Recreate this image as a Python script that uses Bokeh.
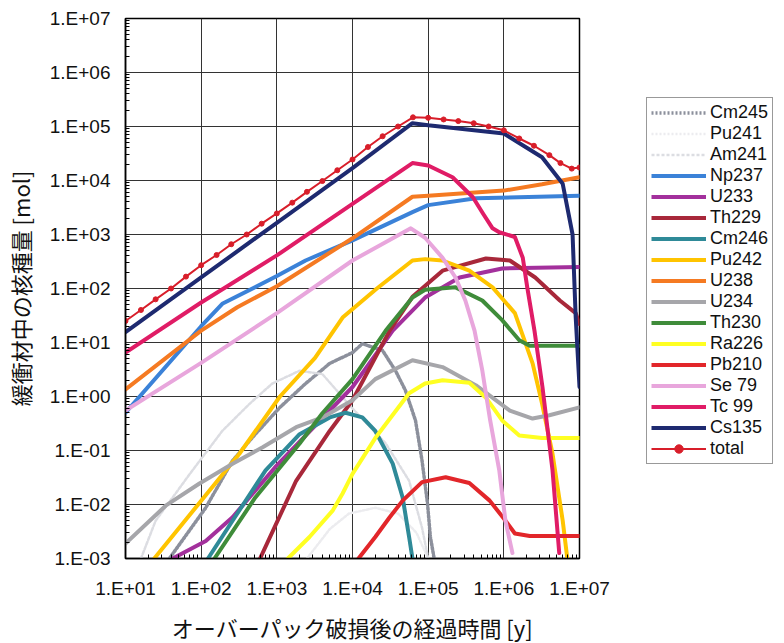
from bokeh.plotting import figure
from bokeh.models import Range1d, FixedTicker, Legend, LegendItem
from bokeh.layouts import row
from bokeh.embed import file_html
from bokeh.resources import INLINE

# ---------------- data ----------------
x_ticks = [1e1, 1e2, 1e3, 1e4, 1e5, 1e6, 1e7]
x_labels = ["1.E+01", "1.E+02", "1.E+03", "1.E+04", "1.E+05", "1.E+06", "1.E+07"]
y_ticks = [1e-3, 1e-2, 1e-1, 1e0, 1e1, 1e2, 1e3, 1e4, 1e5, 1e6, 1e7]
y_labels = ["1.E-03", "1.E-02", "1.E-01", "1.E+00", "1.E+01", "1.E+02",
            "1.E+03", "1.E+04", "1.E+05", "1.E+06", "1.E+07"]

cm245_t = [38, 115, 260, 520, 1100, 2400, 5000, 10000, 13500, 25000, 37000, 50000, 68000, 83000, 98000, 107000, 120000]
cm245_v = [0.001, 0.0087, 0.065, 0.2, 0.63, 1.74, 4.1, 6.5, 9.5, 7.1, 3.0, 1.3, 0.36, 0.065, 0.0105, 0.0025, 0.001]

pu241_t = [2500, 5000, 9000, 20000, 40000, 70000, 100000]
pu241_v = [0.001, 0.0035, 0.0068, 0.0087, 0.0068, 0.003, 0.001]

am241_t = [16, 25, 71, 190, 440, 870, 2000, 4000, 10000, 27500, 56000, 83000, 100000]
am241_v = [0.001, 0.005, 0.037, 0.23, 0.74, 1.74, 3.0, 2.6, 0.6, 0.135, 0.0275, 0.0037, 0.001]

np237_t = [10, 100, 190, 1000, 2400, 10000, 62000, 100000, 430000, 10000000]
np237_v = [0.5, 20, 52, 170, 330, 780, 2600, 3500, 4700, 5200]

u233_t = [42, 115, 260, 950, 10000, 34000, 91000, 260000, 950000, 10000000]
u233_v = [0.001, 0.0021, 0.0058, 0.049, 1.5, 16.6, 68, 160, 235, 250]

th229_t = [600, 1800, 5000, 10000, 31000, 62000, 155000, 580000, 1200000, 2600000, 5500000, 8900000, 10000000]
th229_v = [0.001, 0.0275, 0.23, 0.85, 16.6, 70, 214, 360, 330, 160, 60, 35, 22]

cm246_t = [123, 260, 710, 2000, 5000, 8100, 13500, 20000, 34000, 46000, 56000, 62000]
cm246_v = [0.001, 0.005, 0.043, 0.2, 0.41, 0.5, 0.41, 0.23, 0.057, 0.0135, 0.0025, 0.001]

pu242_t = [24, 320, 1100, 3200, 7400, 21000, 62000, 91000, 155000, 350000, 710000, 1400000, 2400000, 3200000, 4400000, 6000000, 6900000]
pu242_v = [0.001, 0.087, 1.0, 5.2, 29, 100, 330, 350, 330, 215, 105, 35, 4.1, 0.74, 0.087, 0.005, 0.001]

u238_t = [10, 100, 300, 1000, 10000, 62000, 100000, 1000000, 3200000, 10000000]
u238_v = [1.35, 16.6, 45, 110, 850, 5000, 5200, 6500, 8500, 11500]

u234_t = [10, 34, 95, 260, 650, 1800, 4000, 10000, 20000, 62000, 155000, 430000, 1200000, 2400000, 4000000, 10000000]
u234_v = [0.0019, 0.0095, 0.0245, 0.057, 0.115, 0.27, 0.41, 0.85, 2.1, 4.7, 3.5, 1.6, 0.55, 0.39, 0.45, 0.63]

th230_t = [150, 520, 2000, 4000, 10000, 27500, 62000, 91000, 230000, 520000, 950000, 1600000, 2200000, 10000000]
th230_v = [0.001, 0.0135, 0.135, 0.49, 2.1, 16.6, 68, 95, 105, 60, 26, 11, 8.7, 8.7]

ra226_t = [1400, 2700, 5500, 7400, 10000, 20000, 56000, 91000, 155000, 350000, 580000, 950000, 1600000, 3200000, 10000000]
ra226_v = [0.001, 0.0025, 0.0078, 0.016, 0.037, 0.17, 1.15, 1.74, 2.0, 1.8, 0.95, 0.36, 0.19, 0.17, 0.17]

pb210_t = [12000, 20000, 31000, 46000, 83000, 170000, 350000, 650000, 1000000, 1400000, 2200000, 10000000]
pb210_v = [0.001, 0.0025, 0.0058, 0.0118, 0.026, 0.032, 0.025, 0.0118, 0.0055, 0.0029, 0.0026, 0.0026]

se79_t = [10, 100, 1000, 10000, 59000, 91000, 155000, 230000, 310000, 410000, 520000, 660000, 870000, 1050000, 1300000]
se79_v = [0.55, 4.2, 35, 330, 1300, 870, 370, 160, 60, 16.6, 3.0, 0.36, 0.043, 0.005, 0.00126]

tc99_t = [10, 100, 1000, 10000, 62000, 100000, 210000, 390000, 530000, 710000, 870000, 1400000, 1780000, 2040000, 2540000, 3240000, 4400000, 5400000]
tc99_v = [6.5, 55, 410, 3700, 21000, 19000, 11500, 4900, 2450, 1300, 1100, 900, 370, 105, 16.6, 1.5, 0.043, 0.00126]

cs135_t = [10, 100, 1000, 10000, 62000, 100000, 1000000, 3200000, 6000000, 8100000, 8900000, 10000000]
cs135_v = [15.5, 160, 1650, 17000, 115000, 105000, 74000, 27000, 8700, 1000, 30, 1.5]

total_t = [10, 16, 25, 40, 63, 100, 160, 250, 400, 630, 1000, 1600, 2500, 4000, 6300,
           10000, 16000, 25000, 40000, 63000, 100000, 160000, 250000, 400000, 630000,
           1000000, 1600000, 2500000, 4000000, 5600000, 7900000, 10000000]
total_v = [25, 40, 63, 100, 166, 270, 417, 660, 1000, 1585, 2455, 3890, 6170, 9770, 15500,
           24500, 41700, 66000, 100000, 148000, 145000, 135000, 126000, 115000, 100000,
           85000, 60000, 44000, 29500, 21000, 16600, 17400]

names = ["Cm245", "Pu241", "Am241", "Np237", "U233", "Th229", "Cm246", "Pu242",
         "U238", "U234", "Th230", "Ra226", "Pb210", "Se 79", "Tc 99", "Cs135"]
series_t = [cm245_t, pu241_t, am241_t, np237_t, u233_t, th229_t, cm246_t, pu242_t,
            u238_t, u234_t, th230_t, ra226_t, pb210_t, se79_t, tc99_t, cs135_t]
series_v = [cm245_v, pu241_v, am241_v, np237_v, u233_v, th229_v, cm246_v, pu242_v,
            u238_v, u234_v, th230_v, ra226_v, pb210_v, se79_v, tc99_v, cs135_v]
colors = ["#8c909c", "#ececef", "#dcdde2", "#3b82d8", "#a3309c", "#a8283a", "#2f8a98", "#ffc400",
          "#f57a22", "#a6a6aa", "#3f8c3a", "#ffff22", "#e2262a", "#e8a6dc", "#e01c66", "#1e2a70"]
dashes = ["2 2", "2 2", "3 2", "solid", "solid", "solid", "solid", "solid",
          "solid", "solid", "solid", "solid", "solid", "solid", "solid", "solid"]
widths = [3.5, 2.5, 2.5, 4, 4, 4, 4, 4, 4, 4, 4, 4, 4, 4, 4, 4]
total_color = "#d81e2a"

# ---------------- main figure ----------------
p = figure(frame_width=454, frame_height=540, x_axis_type="log", y_axis_type="log",
           x_range=Range1d(10, 1e7), y_range=Range1d(1e-3, 1e7),
           output_backend="svg", toolbar_location=None,
           min_border_left=123, min_border_right=60,
           min_border_top=18, min_border_bottom=77)
p.background_fill_color = "white"
p.border_fill_color = "white"
p.outline_line_color = "black"
p.outline_line_width = 1.5

minor_x = [k * 10.0 ** n for n in range(1, 7) for k in range(2, 10)]
minor_y = [k * 10.0 ** n for n in range(-3, 7) for k in range(2, 10)]
p.xaxis.ticker = FixedTicker(ticks=x_ticks, minor_ticks=minor_x)
p.yaxis.ticker = FixedTicker(ticks=y_ticks, minor_ticks=minor_y)
p.xaxis.major_label_overrides = dict(zip(x_ticks, x_labels))
p.yaxis.major_label_overrides = dict(zip(y_ticks, y_labels))

for ax in (p.xaxis, p.yaxis):
    ax.axis_line_color = "black"
    ax.axis_line_width = 1.5
    ax.major_tick_in = 0
    ax.major_tick_out = 0
    ax.minor_tick_in = 4
    ax.minor_tick_out = 0
    ax.minor_tick_line_color = "black"
    ax.major_label_text_font = "Liberation Sans"
    ax.major_label_text_font_size = "19px"
    ax.major_label_text_color = "#111111"
    ax.axis_label_text_font = "Noto Sans CJK JP"
    ax.axis_label_text_font_size = "22px"
    ax.axis_label_text_font_style = "normal"
    ax.axis_label_text_color = "#111111"

p.xaxis.axis_label = "オーバーパック破損後の経過時間 [y]"
p.yaxis.axis_label = "緩衝材中の核種量 [mol]"
p.xaxis.major_label_standoff = 19
p.xaxis.axis_label_standoff = 9
p.yaxis.major_label_standoff = 15
p.yaxis.axis_label_standoff = 11

p.grid.grid_line_color = "#333333"
p.grid.grid_line_width = 1

for t, v, c, d, w in zip(series_t, series_v, colors, dashes, widths):
    p.line(t, v, line_color=c, line_width=w, line_dash=d,
           line_cap="round", line_join="round")
p.line(total_t, total_v, line_color=total_color, line_width=2)
p.scatter(total_t, total_v, marker="circle", size=5,
          fill_color=total_color, line_color=total_color)

# ---------------- legend panel (separate figure to the right) ----------------
q = figure(frame_width=147, frame_height=540, x_range=Range1d(0, 1), y_range=Range1d(0, 1),
           output_backend="svg", toolbar_location=None,
           x_axis_location=None, y_axis_location=None,
           min_border_left=0, min_border_top=18, min_border_right=0, min_border_bottom=77)
q.outline_line_color = None
q.grid.visible = False
q.background_fill_color = "white"
q.border_fill_color = "white"

# legend proxies: their data lie outside the visible range, only their styles are used
proxy_x = [5, 6]
proxy_y = [5, 6]
items = []
for name, c, d, w in zip(names, colors, dashes, widths):
    r = q.line(proxy_x, proxy_y, line_color=c, line_width=w, line_dash=d)
    items.append(LegendItem(label=name, renderers=[r]))
rl = q.line(proxy_x, proxy_y, line_color=total_color, line_width=2)
rm = q.scatter(proxy_x, proxy_y, marker="circle", size=5,
               fill_color=total_color, line_color=total_color)
items.append(LegendItem(label="total", renderers=[rl, rm]))

legend = Legend(items=items, location=(7, 94), margin=0, padding=4, spacing=0,
                label_height=21, glyph_height=21, glyph_width=55, label_standoff=4,
                label_text_font="Liberation Sans", label_text_font_size="18px",
                label_text_color="#111111",
                border_line_color="#333333", border_line_width=1,
                background_fill_color="white", background_fill_alpha=1.0)
q.add_layout(legend)

open("out.html", "w").write(file_html(row(p, q), INLINE))
